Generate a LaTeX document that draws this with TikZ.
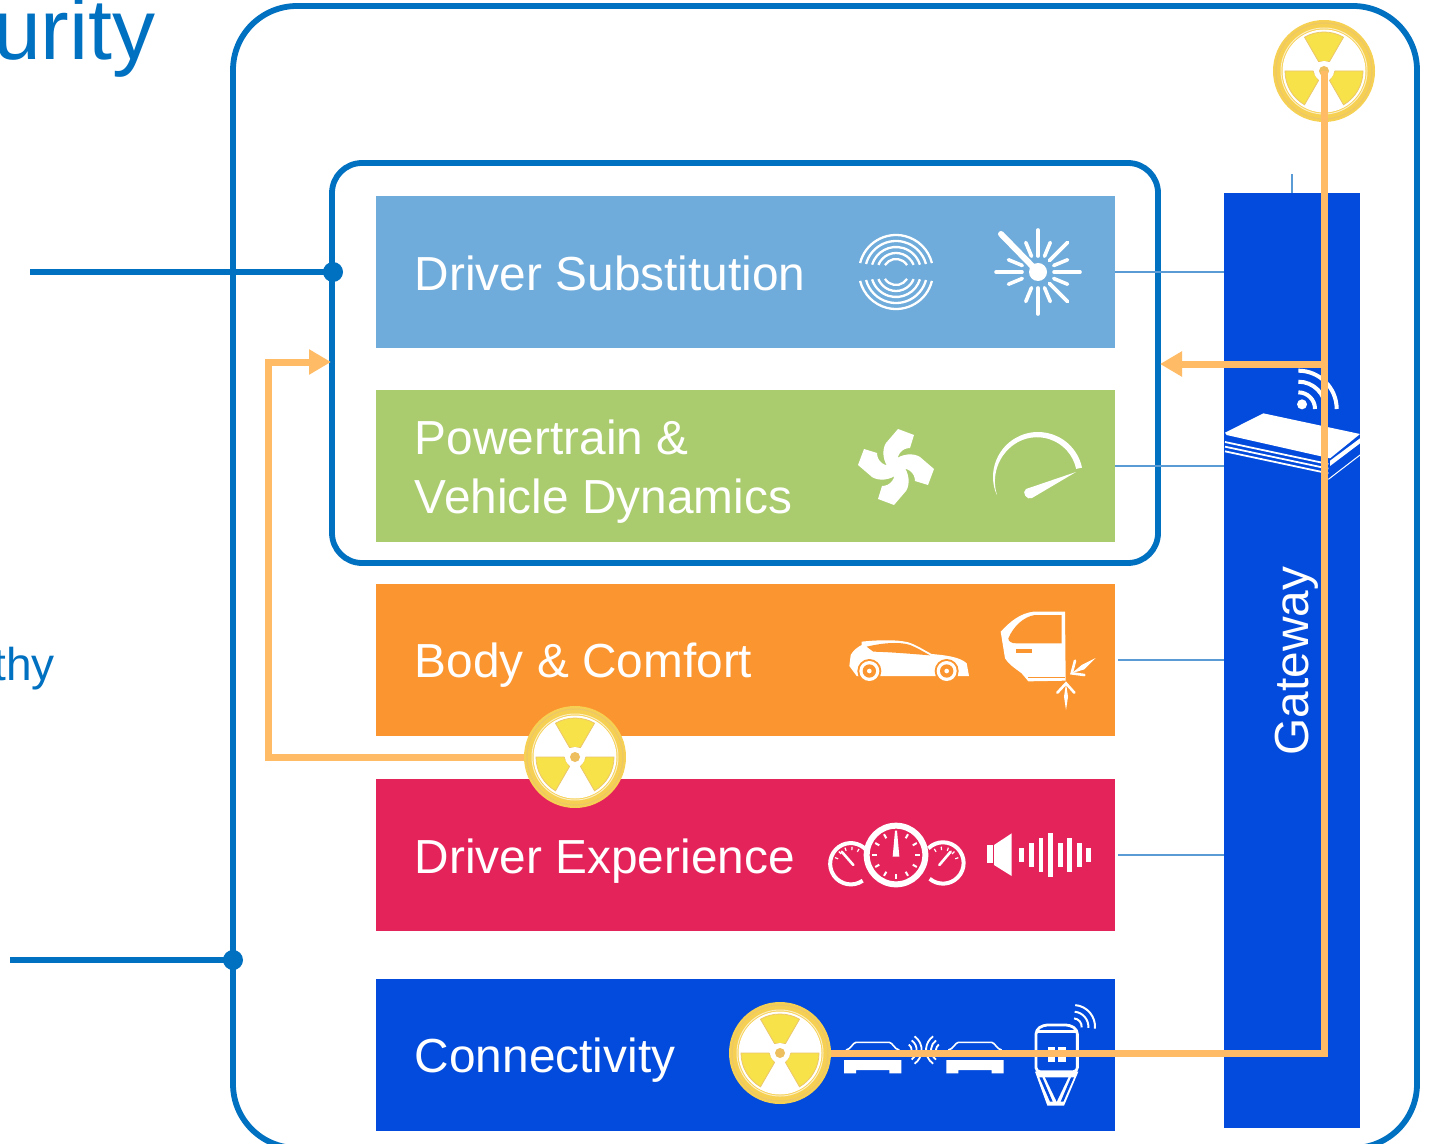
\documentclass[tikz,border=0pt]{standalone}
\usepackage{fontspec}
\setmainfont{Liberation Sans}
\usetikzlibrary{arrows.meta}
\definecolor{frameblue}{HTML}{0070C0}
\definecolor{thinblue}{HTML}{5B9BD5}
\definecolor{cDS}{HTML}{6FACDB}
\definecolor{cPT}{HTML}{ABCC6E}
\definecolor{cBC}{HTML}{FB952F}
\definecolor{cDE}{HTML}{E5235B}
\definecolor{cCO}{HTML}{024BDD}
\definecolor{attack}{HTML}{FFBB66}
\definecolor{hzring}{HTML}{F6D052}
\definecolor{hzfill}{HTML}{F7E24A}
\definecolor{hzedge}{HTML}{EBC66A}
\tikzset{
  framebox/.style={draw=frameblue,line width=2.9pt,fill=none,rectangle,inner sep=0pt,outer sep=0pt},
  barbox/.style={rectangle,inner sep=0pt,outer sep=0pt,minimum width=369.5pt,minimum height=76pt},
  bartext/.style={text=white,anchor=base west,inner sep=0pt,font=\fontsize{23.9}{29}\selectfont,align=left},
  gatewaybox/.style={rectangle,fill=cCO,inner sep=0pt,outer sep=0pt,minimum width=68pt,minimum height=467.5pt},
  busline/.style={draw=thinblue,line width=0.6pt},
  blueline/.style={draw=frameblue,line width=2.9pt},
  bluedot/.style={circle,fill=frameblue,inner sep=0pt,minimum size=10pt},
  attackline/.style={draw=attack,line width=3.5pt},
  attackarrow/.style={attackline,-{Triangle[length=11pt,width=12pt]}},
  hazardbase/.style={circle,fill=hzring,inner sep=0pt,outer sep=0pt,minimum size=51pt},
  zoomunits/.style={x=0.16667pt,y=-0.16667pt},
}
\newcommand{\hazardsym}[1]{%
  \begin{scope}[shift={(#1)}]
    \fill[white] (0,0) circle[radius=41.5];
    \draw[hzedge,line width=0.5pt] (0,0) circle[radius=48];
    \draw[hzring!35!white,line width=0.5pt] (0,0) circle[radius=43];
    \foreach \a in {270,30,150}{
      \filldraw[fill=hzfill,draw=hzedge,line width=0.4pt]
        (\a-30:11) -- (\a-30:39) arc[start angle=\a-30,end angle=\a+30,radius=39] -- (\a+30:11) -- cycle;
    }
    \fill[white] (0,0) circle[radius=10];
    \fill[hzedge!90!orange] (0,0) circle[radius=5];
  \end{scope}}
\begin{document}
\begin{tikzpicture}[x=.5pt,y=-.5pt]
\useasboundingbox (0,0) rectangle (1433,1144);
\clip (0,0) rectangle (1433,1144);
\fill[white] (0,0) rectangle (1433,1144);

% clipped texts
\node[anchor=base east,inner sep=0pt,text=frameblue,font=\fontsize{43}{50}\selectfont] (title) at (156,60) {urity};
\node[anchor=base east,inner sep=0pt,text=frameblue,font=\fontsize{23}{26}\selectfont] (side) at (55,680) {thy};

% frames
\node[framebox,rounded corners=32pt,minimum width=592pt,minimum height=571pt] (outer) at (825,577) {};
\node[framebox,rounded corners=15pt,minimum width=413pt,minimum height=200pt] (inner) at (745,363) {};

% bars
\node[barbox,fill=cDS] (ds) at (745.5,272) {};
\node[barbox,fill=cPT] (pt) at (745.5,466) {};
\node[barbox,fill=cBC] (bc) at (745.5,660) {};
\node[barbox,fill=cDE] (de) at (745.5,855) {};
\node[barbox,fill=cCO] (co) at (745.5,1055) {};
\node[gatewaybox] (gw) at (1292,660.5) {};

% bus lines
\draw[busline] (ds.east) -- (ds.east -| gw.west);
\draw[busline] (pt.east) -- (pt.east -| gw.west);
\draw[busline] ([xshift=1.5pt]bc.east) -- (bc.east -| gw.west);
\draw[busline] ([xshift=1.5pt]de.east) -- (de.east -| gw.west);
\coordinate (stubtop) at (1292,174);
\draw[busline] (stubtop) -- (gw.north);

% bar labels
\node[bartext] (t1) at (414.5,291) {Driver Substitution};
\node[bartext] (t2a) at (414.5,454.5) {Powertrain \&};
\node[bartext] (t2b) at (414.5,513) {Vehicle Dynamics};
\node[bartext] (t3) at (414.5,677.5) {Body \& Comfort};
\node[bartext] (t4) at (414.5,873) {Driver Experience};
\node[bartext] (t5) at (414.5,1072.5) {Connectivity};
\node[text=white,inner sep=0pt,rotate=90,anchor=base,font=\fontsize{23.9}{29}\selectfont] (t6) at (1308,661) {Gateway};

% blue dots and lead lines
\coordinate (lead1) at (30,272);
\coordinate (lead2) at (10,960);
\node[bluedot] (dot1) at (333,272) {};
\node[bluedot] (dot2) at (233,960) {};
\draw[blueline] (lead1) -- (dot1.center);
\draw[blueline] (lead2) -- (dot2.center);

% --- icon: concentric arcs
\begin{scope}[shift={(896,272)}]
  \foreach \r/\s in {13/32,19/22,25/17,31/15,37/14}{
    \draw[white,line width=1.15pt] (-180+\s:\r) arc[start angle=-180+\s,end angle=-\s,radius=\r];
    \draw[white,line width=1.15pt] (\s:\r) arc[start angle=\s,end angle=180-\s,radius=\r];
  }
\end{scope}
% --- icon: sunburst with needle
\begin{scope}[shift={(1038,272)}]
  \fill[white] (0,0) circle[radius=9];
  \draw[white,line width=3pt,line cap=round] (0,0) -- (-37,-38);
  \foreach \a in {0,45,90,180,225,270,315}{
    \draw[white,line width=1.8pt,line cap=round] (\a:16) -- (\a:42);}
  \foreach \a in {22.5,67.5,112.5,157.5,202.5,247.5,292.5,337.5}{
    \draw[white,line width=1.8pt,line cap=round] (\a:17) -- (\a:32);}
\end{scope}
% --- icon: fan
\begin{scope}[shift={(896,467)}]
  \foreach \a in {0,90,180,270}{
    \fill[white,rotate=\a] (-6,3) .. controls (-14,-6) and (-14,-18) .. (-10,-24) -- (2,-38) -- (18,-32) -- (14,-19)
      .. controls (6,-19) and (-1,-12) .. (2,0) -- cycle;
  }
\end{scope}
% --- icon: gauge
\begin{scope}[shift={(1038,477)}]
  \fill[white] (162:45) arc[start angle=162,end angle=348,radius=45]
     -- (348:39) arc[start angle=348,end angle=235,radius=40] arc[start angle=235,end angle=162,radius=45] -- cycle;
  \fill[white] (38,-5) -- (-12,12) .. controls (-17,15) and (-11,24) .. (-6,21) -- cycle;
\end{scope}
% --- icon: car and door
\begin{scope}[shift={(820,590)},zoomunits]
  \fill[white] (88,228) -- (92,195) .. controls (100,180) and (115,170) .. (125,165) -- (125,155) .. controls (170,150) and (230,148) .. (265,157)
     .. controls (290,165) and (315,182) .. (335,192) .. controls (370,195) and (420,200) .. (440,220) -- (447,258) -- (110,258) -- cycle;
  \fill[cBC] (140,170) .. controls (190,158) and (240,155) .. (270,165) .. controls (295,175) and (315,188) .. (330,196) .. controls (280,192) and (210,186) .. (160,185) -- cycle;
  \foreach \wx in {148,380}{
    \fill[cBC] (\wx,243) circle[radius=36];
    \fill[white] (\wx,243) circle[radius=30];
    \fill[cBC] (\wx,243) circle[radius=20];
    \fill[white] (\wx,243) circle[radius=7];
  }
  \fill[white] (542,125) .. controls (570,95) and (600,70) .. (640,65) -- (735,65) -- (737,272) -- (625,274) -- (605,250) .. controls (585,235) and (565,222) .. (555,205) -- cycle;
  \fill[cBC] (565,145) .. controls (580,110) and (610,80) .. (645,75) -- (725,75) -- (725,160) -- (590,160) .. controls (575,160) and (565,155) .. (565,145) -- cycle;
  \fill[cBC] (588,178) rectangle (636,190);
  \draw[cBC,line width=0.4pt] (625,262) -- (735,262);
  \draw[white,line width=1.3pt,line cap=round] (712,308) -- (738,280) -- (763,308);
  \fill[white] (738,280) -- (744,320) -- (738,360) -- (732,320) -- cycle;
  \draw[white,line width=1.3pt,line cap=round] (765,212) -- (755,250) -- (793,255);
  \fill[white] (755,250) -- (785,225) -- (827,204) -- (793,238) -- cycle;
\end{scope}
% --- icon: dashboard and speaker
\begin{scope}[shift={(820,590)},zoomunits]
  \draw[white,line width=2pt] (128,872) arc[start angle=55,end angle=320,radius=62];
  \draw[white,line width=2pt] (325,775) arc[start angle=-135,end angle=130,radius=62];
  \draw[white,line width=3pt] (228,795) circle[radius=88];
  \foreach \a in {0,30,...,330}{
    \draw[white,line width=1pt] ([shift={(228,795)}]\a:58) -- ([shift={(228,795)}]\a:72);}
  \fill[white] (225,722) -- (231,722) -- (238,800) -- (218,800) -- cycle;
  \draw[white,line width=1.3pt,line cap=round] (65,785) -- (100,825);
  \draw[white,line width=1.3pt,line cap=round] (392,785) -- (358,825);
  \foreach \a in {200,225,250,275,300}{
    \draw[white,line width=.6pt] ([shift={(92,820)}]\a:40) -- ([shift={(92,820)}]\a:50);}
  \foreach \a in {240,265,290,315,340}{
    \draw[white,line width=.6pt] ([shift={(368,820)}]\a:40) -- ([shift={(368,820)}]\a:50);}
  \fill[white] (500,765) rectangle (518,820);
  \fill[white] (522,765) -- (575,730) -- (575,858) -- (522,825) -- cycle;
  \foreach \bx/\bh in {605/20,635/36,663/50,692/65,721/36,749/50,778/36,806/20}{
    \fill[white] (\bx-7,795-\bh) rectangle (\bx+7,795+\bh);}
\end{scope}
% --- icons: V2V and device
\begin{scope}[shift={(720,990)},zoomunits]
  \foreach \cx in {458,765}{
    \begin{scope}[shift={(\cx,0)}]
      \draw[white,line width=.8pt] (-80,180) .. controls (-65,178) and (-60,158) .. (-50,157) -- (50,157) .. controls (60,158) and (65,178) .. (80,180);
      \fill[white] (-86,210) -- (86,210) -- (86,250) -- (50,250) -- (50,240) -- (-50,240) -- (-50,250) -- (-86,250) -- cycle;
    \end{scope}
  }
  \foreach \r in {20,35,50}{
    \draw[white,line width=.9pt] (555,180) ++(-55:\r) arc[start angle=-55,end angle=55,radius=\r];
    \draw[white,line width=.9pt] (668,180) ++(125:\r) arc[start angle=125,end angle=235,radius=\r];
  }
  \draw[white,line width=1.4pt,rounded corners=2pt] (948,245) -- (948,120) -- (970,105) -- (1050,105) -- (1072,120) -- (1072,245) -- cycle;
  \draw[white,line width=1.4pt] (948,125) -- (1072,125);
  \fill[white] (945,245) -- (1075,245) -- (1032,347) -- (982,347) -- cycle;
  \fill[cCO] (975,262) -- (1045,262) -- (1010,335) -- cycle;
  \fill[cCO] (958,262) -- (967,262) -- (998,335) -- (990,335) -- cycle;
  \fill[cCO] (1053,262) -- (1062,262) -- (1030,335) -- (1022,335) -- cycle;
  \fill[white] (983,170) rectangle (1005,215);
  \fill[white] (1015,170) rectangle (1037,215);
  \foreach \r in {25,45,65}{
    \draw[white,line width=1pt] (1060,110) ++(-85:\r) arc[start angle=-85,end angle=5,radius=\r];}
\end{scope}
% --- icon: router
\begin{scope}[shift={(1210,10)},zoomunits]
  \fill[white] (45,1268) -- (160,1210) -- (450,1272) -- (360,1345) -- (50,1275) -- cycle;
  \fill[white] (360,1352) -- (450,1285) -- (450,1300) -- (360,1368) -- cycle;
  \foreach \dy in {0,14,28}{
    \draw[white,line width=.9pt] (45,1296+\dy) -- (355,1362+\dy);}
  \draw[white,line width=.5pt] (355,1408) -- (450,1335);
  \fill[white] (276,1183) circle[radius=15];
  \foreach \r in {50,82,115}{
    \draw[white,line width=2pt] (265,1197) ++(-90:\r) arc[start angle=-90,end angle=0,radius=\r];}
\end{scope}

% attack paths (hazard nodes)
\node[hazardbase] (hzT) at (1324,71) {};
\hazardsym{hzT}
\coordinate (hzM0) at (575,757);
\coordinate (hzC0) at (780,1053);
\coordinate (jr) at (1324,364);
\coordinate (br) at (1324,1053);
\coordinate (lb) at (268,757);
\coordinate (lt) at (268,362);
\coordinate (arrR) at (1160,364);
\coordinate (arrL) at (331,362);
\draw[attackline,line join=miter] (hzT.center) -- (br) -- (hzC0);
\draw[attackarrow] (jr) -- (arrR);
\draw[attackarrow,line join=miter] (hzM0) -- (lb) -- (lt) -- (arrL);
\node[hazardbase] (hzM) at (575,757) {};
\hazardsym{hzM}
\node[hazardbase] (hzC) at (780,1053) {};
\hazardsym{hzC}
\end{tikzpicture}
\end{document}
